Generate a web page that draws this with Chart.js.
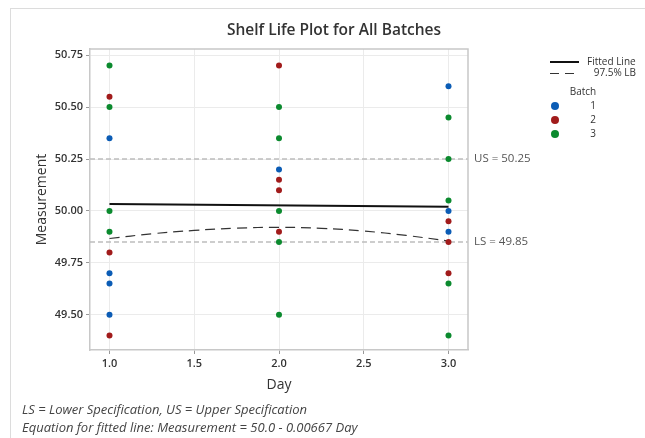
<!DOCTYPE html>
<html>
<head>
<meta charset="utf-8">
<script src="https://cdn.jsdelivr.net/npm/chart.js@4/dist/chart.umd.min.js"></script>
<style>
  html, body { margin: 0; padding: 0; background: #fff; }
  canvas { display: block; }
</style>
</head>
<body>
<canvas id="shelfChart" width="645" height="438"></canvas>
<script>
// values
var xTicks = [1.0, 1.5, 2.0, 2.5, 3.0];
var yTicks = [49.50, 49.75, 50.00, 50.25, 50.50, 50.75];

var batch1Days = [1, 1, 1, 1, 2, 3, 3, 3];
var batch1Values = [50.35, 49.70, 49.65, 49.50, 50.20, 50.60, 50.00, 49.90];
var batch2Days = [1, 1, 1, 2, 2, 2, 2, 3, 3, 3];
var batch2Values = [50.55, 49.80, 49.40, 50.70, 50.15, 50.10, 49.90, 49.95, 49.85, 49.70];
var batch3Days = [1, 1, 1, 1, 2, 2, 2, 2, 2, 3, 3, 3, 3, 3];
var batch3Values = [50.70, 50.50, 50.00, 49.90, 50.50, 50.35, 50.00, 49.85, 49.50, 50.45, 50.25, 50.05, 49.65, 49.40];

var fitDays = [1, 3];
var fitValues = [50.033, 50.020];
var lbDays = [1, 1.25, 1.5, 1.75, 2, 2.25, 2.5, 2.75, 3];
var lbValues = [49.867, 49.890, 49.906, 49.917, 49.921, 49.916, 49.903, 49.882, 49.855];

var specNames = ["US", "LS"];
var specValues = [50.25, 49.85];

var batchNames = ["1", "2", "3"];
var batchColors = ["#0b5cb5", "#a11b1b", "#0b8a2e"];

var xMin = 0.885, xMax = 3.115;
var yMin = 49.33, yMax = 50.78;

var FONT = "'Open Sans', 'Noto Sans', sans-serif";

function toPoints(xs, ys) {
    var pts = [];
    for (var i = 0; i < xs.length; i++) {
        pts.push({ x: xs[i], y: ys[i] });
    }
    return pts;
}

function getDatasets() {
    var list = [];
    var allDays = [batch1Days, batch2Days, batch3Days];
    var allValues = [batch1Values, batch2Values, batch3Values];
    for (var i = 0; i < 3; i++) {
        list.push({
            type: "scatter",
            label: batchNames[i],
            data: toPoints(allDays[i], allValues[i]),
            backgroundColor: batchColors[i],
            borderColor: batchColors[i],
            pointRadius: 3,
            borderWidth: 0,
            order: 0
        });
    }
    list.push({
        type: "line",
        label: "Fitted Line",
        data: toPoints(fitDays, fitValues),
        borderColor: "#111",
        borderWidth: 2,
        pointRadius: 0,
        order: 2
    });
    list.push({
        type: "line",
        label: "97.5% LB",
        data: toPoints(lbDays, lbValues),
        borderColor: "#333",
        borderWidth: 1.2,
        borderDash: [10, 6],
        tension: 0.4,
        pointRadius: 0,
        order: 2
    });
    for (var j = 0; j < specValues.length; j++) {
        list.push({
            type: "line",
            label: specNames[j],
            data: toPoints([xMin, xMax], [specValues[j], specValues[j]]),
            borderColor: "#bdbdbd",
            borderWidth: 1.5,
            borderDash: [5, 3],
            pointRadius: 0,
            order: 3
        });
    }
    return list;
}

var textPlugin = {
    id: "textPlugin",
    beforeDraw: function (chart) {
        var ctx = chart.ctx;
        ctx.save();
        ctx.fillStyle = "#fff";
        ctx.fillRect(0, 0, chart.width, chart.height);
        ctx.strokeStyle = "#dcdcdc";
        ctx.lineWidth = 1;
        ctx.strokeRect(10.5, 8.5, chart.width + 20, chart.height + 20);
        ctx.restore();
    },
    afterDraw: function (chart) {
        var ctx = chart.ctx;
        var area = chart.chartArea;
        var ys = chart.scales.y;
        ctx.save();
        // plot frame top + right
        ctx.strokeStyle = "#c8c8c8";
        ctx.lineWidth = 1.5;
        ctx.beginPath();
        ctx.moveTo(area.left, area.top);
        ctx.lineTo(area.right, area.top);
        ctx.lineTo(area.right, area.bottom);
        ctx.stroke();

        // title
        ctx.fillStyle = "#333";
        ctx.textAlign = "center";
        ctx.textBaseline = "middle";
        ctx.font = "600 15.5px " + FONT;
        ctx.fillText("Shelf Life Plot for All Batches", 334, 31);

        // axis titles
        ctx.font = "14px " + FONT;
        ctx.fillText("Day", (area.left + area.right) / 2, 385);
        ctx.save();
        ctx.translate(42, (area.top + area.bottom) / 2);
        ctx.rotate(-Math.PI / 2);
        ctx.fillText("Measurement", 0, 0);
        ctx.restore();

        // spec labels
        ctx.font = "11.5px " + FONT;
        ctx.fillStyle = "#555";
        ctx.textAlign = "left";
        for (var i = 0; i < specValues.length; i++) {
            ctx.fillText(specNames[i] + " = " + specValues[i].toFixed(2), area.right + 6, ys.getPixelForValue(specValues[i]));
        }

        // legend
        ctx.fillStyle = "#333";
        ctx.font = "10px " + FONT;
        ctx.strokeStyle = "#111";
        ctx.lineWidth = 2;
        ctx.beginPath();
        ctx.moveTo(550, 62);
        ctx.lineTo(579, 62);
        ctx.stroke();
        ctx.textAlign = "left";
        ctx.fillText("Fitted Line", 587, 62);
        ctx.lineWidth = 1;
        ctx.strokeStyle = "#333";
        ctx.setLineDash([9, 6]);
        ctx.beginPath();
        ctx.moveTo(550, 73.5);
        ctx.lineTo(574, 73.5);
        ctx.stroke();
        ctx.setLineDash([]);
        ctx.textAlign = "right";
        ctx.fillText("97.5% LB", 636, 73.5);
        ctx.textAlign = "center";
        ctx.fillText("Batch", 583, 92);
        for (var b = 0; b < batchNames.length; b++) {
            var yy = 106 + b * 14;
            ctx.fillStyle = batchColors[b];
            ctx.beginPath();
            ctx.arc(555, yy, 4, 0, Math.PI * 2);
            ctx.fill();
            ctx.fillStyle = "#333";
            ctx.fillText(batchNames[b], 593, yy);
        }

        // notes
        ctx.fillStyle = "#444";
        ctx.textAlign = "left";
        ctx.font = "italic 13px " + FONT;
        ctx.fillText("LS = Lower Specification, US = Upper Specification", 22, 410);
        ctx.fillText("Equation for fitted line: Measurement = 50.0 - 0.00667 Day", 22, 428);
        ctx.restore();
    }
};

function drawchart() {
    new Chart("shelfChart", {
        data: { datasets: getDatasets() },
        options: {
            responsive: false,
            devicePixelRatio: 1,
            animation: false,
            layout: { padding: { left: 0, top: 49, right: 177, bottom: 0 } },
            plugins: {
                legend: { display: false },
                tooltip: { enabled: false },
                title: { display: false }
            },
            scales: {
                x: {
                    type: "linear",
                    min: xMin,
                    max: xMax,
                    afterBuildTicks: function (s) {
                        s.ticks = xTicks.map(function (v) { return { value: v }; });
                    },
                    afterFit: function (s) { s.height = 88; },
                    ticks: {
                        padding: 3,
                        color: "#333",
                        font: { family: FONT, size: 11, weight: "600" },
                        callback: function (v) { return Number(v).toFixed(1); }
                    },
                    grid: { color: "#ebebeb", tickColor: "#999", tickLength: 4 },
                    border: { color: "#c8c8c8", width: 1.5 }
                },
                y: {
                    type: "linear",
                    min: yMin,
                    max: yMax,
                    afterBuildTicks: function (s) {
                        s.ticks = yTicks.map(function (v) { return { value: v }; });
                    },
                    afterFit: function (s) { s.width = 90; },
                    ticks: {
                        padding: 3,
                        color: "#333",
                        font: { family: FONT, size: 11, weight: "600" },
                        callback: function (v) { return Number(v).toFixed(2); }
                    },
                    grid: { color: "#ebebeb", tickColor: "#999", tickLength: 4 },
                    border: { color: "#c8c8c8", width: 1.5 }
                }
            }
        },
        plugins: [textPlugin]
    });
}

drawchart();
</script>
</body>
</html>
